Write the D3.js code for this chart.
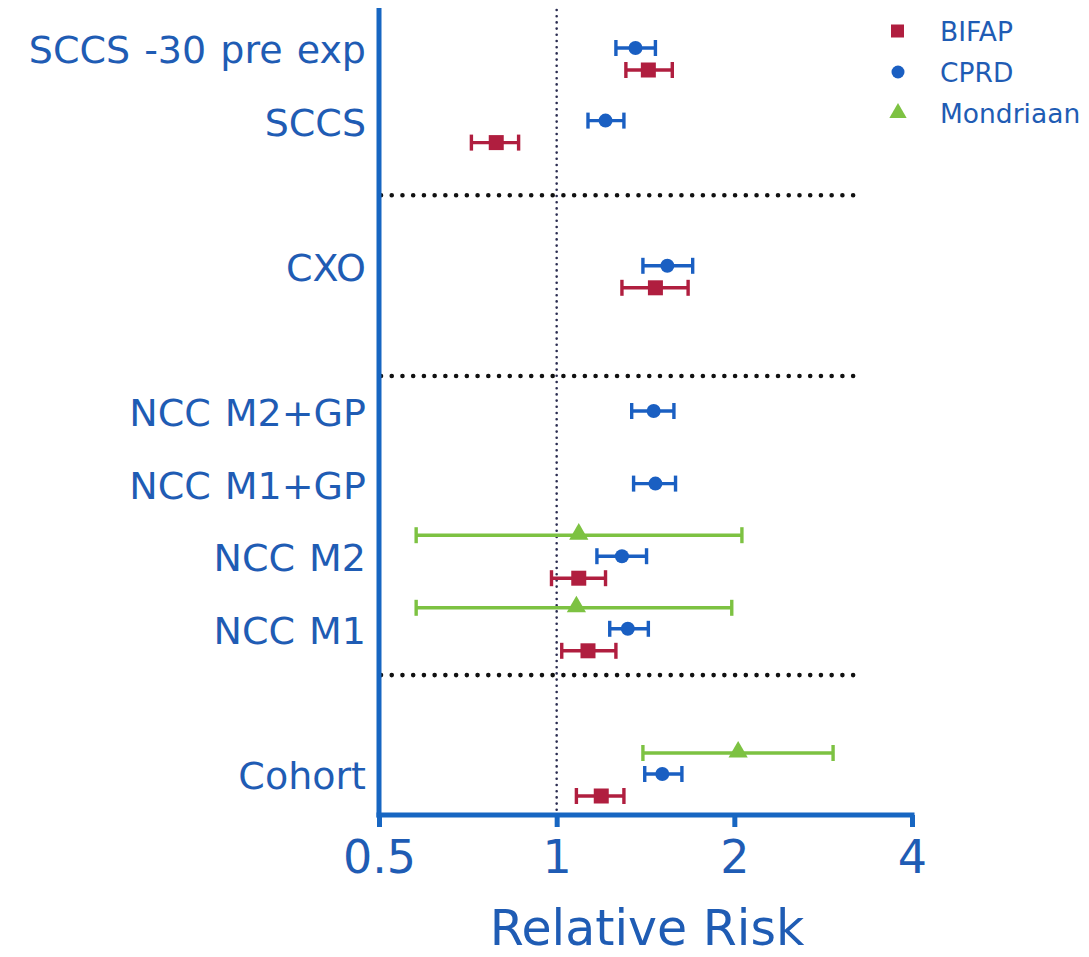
<!DOCTYPE html>
<html><head><meta charset="utf-8">
<script src="https://cdn.jsdelivr.net/npm/d3@7"></script>
<style>body{margin:0;background:#fff}svg{display:block}</style>
</head><body>
<script>
// ---- data ----
const categories = ["SCCS -30 pre exp","SCCS","CXO","NCC M2+GP","NCC M1+GP","NCC M2","NCC M1","Cohort"];
const categoryRows = [0,1,3,5,6,7,8,10];
const separatorRows = [2, 4.49, 8.61];
const seriesNames = ["BIFAP","CPRD","Mondriaan"];
// [estimate, lower, upper] per category (null = missing)
const bifap = [[1.43,1.31,1.57],[0.79,0.717,0.862],[1.47,1.29,1.67],null,null,[1.09,0.98,1.21],[1.13,1.02,1.26],[1.19,1.08,1.30]];
const cprd  = [[1.36,1.26,1.47],[1.21,1.13,1.30],[1.54,1.40,1.70],[1.46,1.34,1.58],[1.47,1.35,1.59],[1.29,1.17,1.42],[1.32,1.23,1.43],[1.51,1.41,1.63]];
const mondriaan = [null,null,null,null,null,[1.09,0.578,2.06],[1.08,0.578,1.98],[2.03,1.40,2.94]];
const xTicks = [0.5,1,2,4];
const xTickLabels = ["0.5","1","2","4"];
const xTitle = "Relative Risk";

// ---- layout ----
const W=1089,H=957;
const svg=d3.select("body").append("svg").attr("width",W).attr("height",H);
const font="DejaVu Sans, Verdana, sans-serif";
const axisBlue="#1766c2", textBlue="#1f5cb4";
const colors={BIFAP:"#b01e3f",CPRD:"#1a5fc2",Mondriaan:"#7dc242"};
const offsets={BIFAP:20,CPRD:-2,Mondriaan:-23};

const x=d3.scaleLog().base(2).domain([0.5,4]).range([379,912]);
const y=d3.scaleLinear().domain([0,10]).range([50,776]);
const axisY=815;

// reference line at 1
svg.append("line").attr("x1",x(1)).attr("x2",x(1)).attr("y1",10).attr("y2",axisY)
  .attr("stroke","#2a2c50").attr("stroke-width",2.6).attr("stroke-linecap","round").attr("stroke-dasharray","0 6.2");

// separators
svg.selectAll(".sep").data(separatorRows).join("line")
  .attr("x1",381).attr("x2",855).attr("y1",d=>y(d)).attr("y2",d=>y(d))
  .attr("stroke","#111").attr("stroke-width",4.6).attr("stroke-linecap","round").attr("stroke-dasharray","0 10.73");

// series
const seriesData={BIFAP:bifap,CPRD:cprd,Mondriaan:mondriaan};
const tri=d3.symbol().type(d3.symbolTriangle).size(160);
seriesNames.forEach(name=>{
  const arr=seriesData[name].map((v,i)=>v?{est:v[0],lo:v[1],hi:v[2],row:categoryRows[i]}:null).filter(Boolean);
  const g=svg.append("g").attr("stroke",colors[name]).attr("fill",colors[name]);
  arr.forEach(d=>{
    const yy=y(d.row)+offsets[name];
    g.append("line").attr("x1",x(d.lo)).attr("x2",x(d.hi)).attr("y1",yy).attr("y2",yy).attr("stroke-width",3.4);
    [d.lo,d.hi].forEach(v=>g.append("line").attr("x1",x(v)).attr("x2",x(v)).attr("y1",yy-8).attr("y2",yy+8).attr("stroke-width",3.4));
    if(name==="BIFAP") g.append("rect").attr("x",x(d.est)-7.5).attr("y",yy-7.5).attr("width",15).attr("height",15).attr("stroke","none");
    else if(name==="CPRD") g.append("circle").attr("cx",x(d.est)).attr("cy",yy).attr("r",7).attr("stroke","none");
    else g.append("path").attr("d",tri).attr("transform",`translate(${x(d.est)},${yy-1})`).attr("stroke","none");
  });
});

// axes
svg.append("line").attr("x1",379).attr("x2",379).attr("y1",8).attr("y2",axisY+2.5).attr("stroke",axisBlue).attr("stroke-width",5);
const xa=svg.append("g").attr("transform",`translate(0,${axisY})`)
  .call(d3.axisBottom(x).tickValues(xTicks).tickFormat((d,i)=>xTickLabels[i]).tickSize(12).tickSizeOuter(0));
xa.select(".domain").attr("d",`M${376.5},0H${914.5}`).attr("stroke",axisBlue).attr("stroke-width",5);
xa.selectAll(".tick line").attr("stroke",axisBlue).attr("stroke-width",5);
xa.selectAll(".tick text").attr("fill",textBlue).attr("font-family",font).attr("font-size",46).attr("dy",0).attr("y",58);

// category labels
svg.selectAll(".cat").data(categories).join("text")
  .attr("x",366).attr("y",(d,i)=>y(categoryRows[i])+13).attr("text-anchor","end")
  .attr("fill",textBlue).attr("font-family",font).attr("font-size",38).attr("word-spacing",2).text(d=>d);

// x title
svg.append("text").attr("x",647).attr("y",945).attr("text-anchor","middle")
  .attr("fill",textBlue).attr("font-family",font).attr("font-size",49).text(xTitle);

// legend
const legY=[31,72,113];
seriesNames.forEach((name,i)=>{
  const yy=legY[i];
  if(name==="BIFAP") svg.append("rect").attr("x",891).attr("y",yy-6.5).attr("width",13).attr("height",13).attr("fill",colors[name]);
  else if(name==="CPRD") svg.append("circle").attr("cx",898).attr("cy",yy).attr("r",6.5).attr("fill",colors[name]);
  else svg.append("path").attr("d",d3.symbol().type(d3.symbolTriangle).size(130)).attr("transform",`translate(898,${yy})`).attr("fill",colors[name]);
  svg.append("text").attr("x",940).attr("y",yy+9.5).attr("fill",textBlue).attr("font-family",font).attr("font-size",26.5).text(name);
});
</script>
</body></html>
